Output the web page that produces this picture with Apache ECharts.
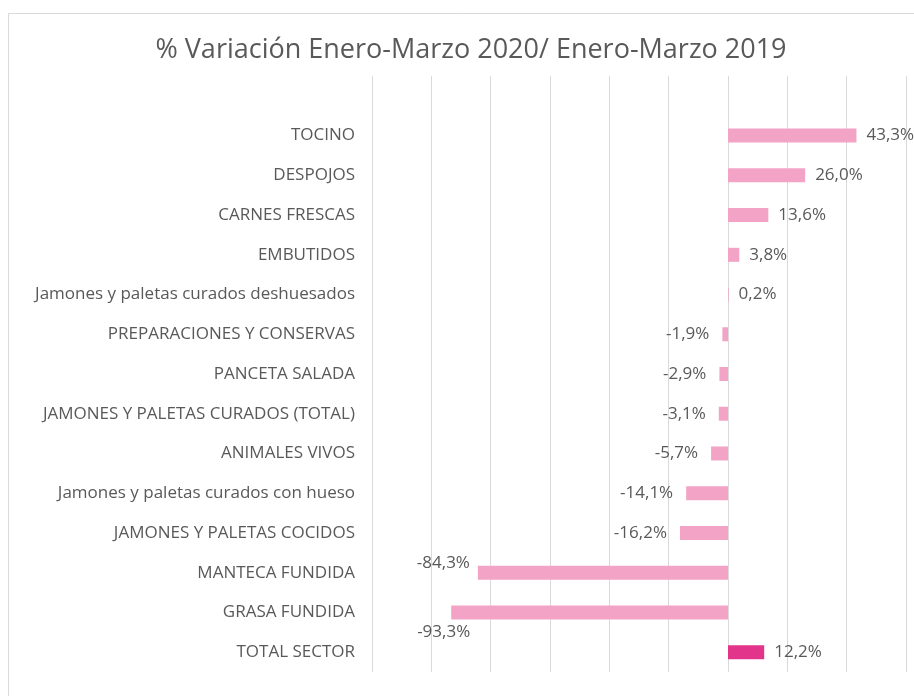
<!DOCTYPE html>
<html>
<head>
<meta charset="utf-8">
<script src="https://cdn.jsdelivr.net/npm/echarts@6/dist/echarts.min.js"></script>
<style>
  html, body { margin: 0; padding: 0; background: #ffffff; }
  #chart { width: 914px; height: 696px; }
</style>
</head>
<body>
<div id="chart"></div>
<script>
const titleText = '% Variación Enero-Marzo 2020/ Enero-Marzo 2019';
const categories = [
  '',
  'TOCINO',
  'DESPOJOS',
  'CARNES FRESCAS',
  'EMBUTIDOS',
  'Jamones y paletas curados deshuesados',
  'PREPARACIONES Y CONSERVAS',
  'PANCETA SALADA',
  'JAMONES Y PALETAS CURADOS (TOTAL)',
  'ANIMALES VIVOS',
  'Jamones y paletas curados con hueso',
  'JAMONES Y PALETAS COCIDOS',
  'MANTECA FUNDIDA',
  'GRASA FUNDIDA',
  'TOTAL SECTOR'
];
const variation = [null, 43.3, 26.0, 13.6, 3.8, 0.2, -1.9, -2.9, -3.1, -5.7, -14.1, -16.2, -84.3, -93.3, 12.2];
const totalCategory = 'TOTAL SECTOR';

const FONT = 'Open Sans';
const TEXT = '#595959';
const labelTweaks = {
  'MANTECA FUNDIDA': { offset: [5, -10] },
  'GRASA FUNDIDA': { offset: [32, 20] }
};

const seriesData = variation.map((v, i) => {
  const cat = categories[i];
  const item = { value: v };
  if (cat === totalCategory) item.itemStyle = { color: '#E2348A' };
  const label = { position: v < 0 ? 'left' : 'right', distance: v < 0 ? 13 : 10 };
  if (labelTweaks[cat]) label.offset = labelTweaks[cat].offset;
  item.label = label;
  return item;
});

const chart = echarts.init(document.getElementById('chart'), null, { renderer: 'canvas' });
chart.setOption({
  animation: false,
  backgroundColor: '#ffffff',
  title: {
    text: titleText,
    left: 466,
    textAlign: 'center',
    top: 32,
    textStyle: { fontFamily: FONT, fontSize: 27, fontWeight: 'normal', color: TEXT }
  },
  graphic: [{
    type: 'rect',
    shape: { x: 8.5, y: 13.5, width: 920, height: 700 },
    style: { fill: 'none', stroke: '#d9d9d9', lineWidth: 1 },
    silent: true
  }],
  grid: { left: 372, right: 8, top: 76, bottom: 24, containLabel: false },
  xAxis: {
    type: 'value',
    min: -120, max: 60, interval: 20,
    axisLabel: { show: false },
    axisLine: { show: false },
    axisTick: { show: false },
    splitLine: { show: true, lineStyle: { color: '#d9d9d9', width: 1 } }
  },
  yAxis: {
    type: 'category',
    data: categories,
    inverse: true,
    axisLine: { show: false, onZero: false },
    axisTick: { show: false },
    splitLine: { show: false },
    axisLabel: { margin: 17, fontFamily: FONT, fontSize: 17, color: TEXT, interval: 0 }
  },
  series: [{
    type: 'bar',
    data: seriesData,
    barWidth: 14,
    itemStyle: { color: '#F3A3C6' },
    label: {
      show: true,
      fontFamily: FONT,
      fontSize: 17,
      color: TEXT,
      formatter: p => p.value == null ? '' : p.value.toFixed(1).replace('.', ',') + '%'
    }
  }]
});
</script>
</body>
</html>
